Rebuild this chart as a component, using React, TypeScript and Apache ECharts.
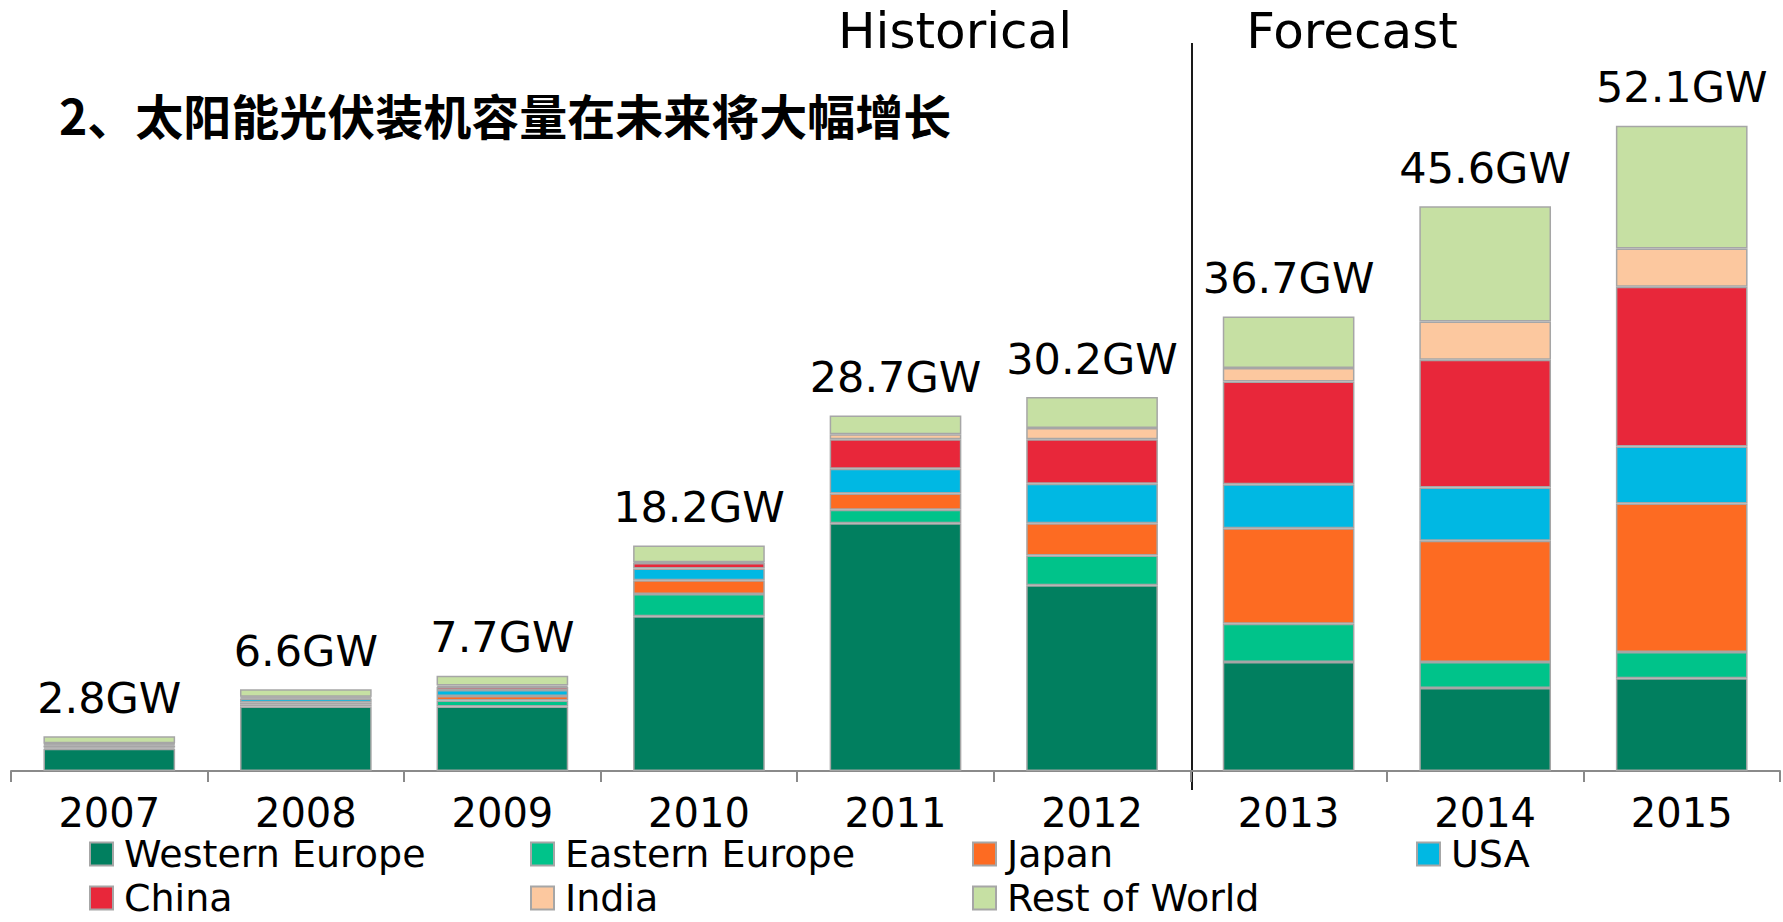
import React, { useEffect, useRef } from "react";
import * as echarts from "echarts";

const years = ["2007", "2008", "2009", "2010", "2011", "2012", "2013", "2014", "2015"];
const westernEurope = [1.8, 5.2, 5.2, 12.5, 20.0, 15.0, 8.8, 6.7, 7.5];
const easternEurope = [0.1, 0.15, 0.5, 1.8, 1.1, 2.4, 3.1, 2.1, 2.1];
const japan = [0.15, 0.2, 0.35, 1.1, 1.3, 2.6, 7.7, 9.8, 12.0];
const usa = [0.1, 0.3, 0.5, 0.95, 2.0, 3.2, 3.55, 4.3, 4.6];
const china = [0.05, 0.1, 0.25, 0.45, 2.4, 3.6, 8.3, 10.3, 12.9];
const india = [0.05, 0.05, 0.1, 0.05, 0.4, 0.9, 1.1, 3.1, 3.1];
const restOfWorld = [0.55, 0.6, 0.8, 1.35, 1.5, 2.5, 4.15, 9.3, 9.9];
const totalLabels = ["2.8GW", "6.6GW", "7.7GW", "18.2GW", "28.7GW", "30.2GW", "36.7GW", "45.6GW", "52.1GW"];

const title = "2、太阳能光伏装机容量在未来将大幅增长";
const historicalText = "Historical";
const forecastText = "Forecast";

const seriesDefs = [
  { name: "Western Europe", data: westernEurope, color: "#017f5f" },
  { name: "Eastern Europe", data: easternEurope, color: "#00c38a" },
  { name: "Japan", data: japan, color: "#fd6b22" },
  { name: "USA", data: usa, color: "#00b8e3" },
  { name: "China", data: china, color: "#e8273a" },
  { name: "India", data: india, color: "#fcc89f" },
  { name: "Rest of World", data: restOfWorld, color: "#c6e0a3" },
];

// legend grid slots: [name, column, row]
const legendSlots: [string, number, number][] = [
  ["Western Europe", 0, 0],
  ["Eastern Europe", 1, 0],
  ["Japan", 2, 0],
  ["USA", 3, 0],
  ["China", 0, 1],
  ["India", 1, 1],
  ["Rest of World", 2, 1],
];
const legendColumnsX = [89, 530, 972, 1416];
const legendRowsY = [835, 879];

const FONT = "'DejaVu Sans', 'Liberation Sans', sans-serif";

export default function App() {
  const ref = useRef<HTMLDivElement>(null);
  useEffect(() => {
    if (!ref.current) return;
    const chart = echarts.init(ref.current, undefined, { renderer: "svg" });
    const last = seriesDefs.length - 1;
    chart.setOption({
      animation: false,
      backgroundColor: "#fff",
      grid: { left: 11, right: 3, top: 28, bottom: 151, containLabel: false },
      xAxis: {
        type: "category",
        data: years,
        axisLine: { lineStyle: { color: "#8a8a8a", width: 2 } },
        axisTick: { show: true, length: 11, lineStyle: { color: "#8a8a8a", width: 2 } },
        axisLabel: {
          fontSize: 40,
          lineHeight: 40,
          fontFamily: FONT,
          color: "#000",
          margin: 22,
          interval: 0,
        },
      },
      yAxis: { type: "value", min: 0, max: 60, show: false },
      legend: legendSlots.map(([name, col, row]) => ({
        data: [name],
        orient: "horizontal",
        left: legendColumnsX[col],
        top: legendRowsY[row],
        padding: 0,
        itemWidth: 23,
        itemHeight: 23,
        icon: "rect",
        selectedMode: false,
        textStyle: {
          fontSize: 38,
          lineHeight: 38,
          fontFamily: FONT,
          color: "#000",
          padding: [0, 0, 0, 6],
        },
      })),
      series: seriesDefs.map((s, i) => ({
        name: s.name,
        type: "bar",
        stack: "total",
        data: s.data,
        barWidth: "67%",
        itemStyle: { color: s.color, borderColor: "#a6a6a6", borderWidth: 1.5 },
        label:
          i === last
            ? {
                show: true,
                position: "top",
                distance: 17,
                fontSize: 43,
                fontFamily: FONT,
                color: "#000",
                formatter: (p: any) => totalLabels[p.dataIndex],
              }
            : { show: false },
        emphasis: { disabled: true },
      })),
      graphic: [
        {
          type: "line",
          shape: { x1: 1192, y1: 43, x2: 1192, y2: 790 },
          style: { stroke: "#1a1a1a", lineWidth: 2 },
        },
        {
          type: "text",
          x: 955,
          y: 31,
          style: {
            text: historicalText,
            fontSize: 50,
            fontFamily: FONT,
            fill: "#000",
            align: "center",
            verticalAlign: "middle",
          },
        },
        {
          type: "text",
          x: 1352,
          y: 31,
          style: {
            text: forecastText,
            fontSize: 50,
            fontFamily: FONT,
            fill: "#000",
            align: "center",
            verticalAlign: "middle",
          },
        },
        {
          type: "text",
          x: 59,
          y: 114,
          style: {
            text: title,
            fontSize: 48,
            fontWeight: "bold",
            fontFamily: "'Noto Sans CJK SC', sans-serif",
            fill: "#000",
            align: "left",
            verticalAlign: "middle",
          },
        },
      ],
    });
    return () => chart.dispose();
  }, []);
  return (
    <div
      ref={ref}
      style={{ position: "fixed", left: 0, top: 0, width: 1783, height: 922, background: "#fff" }}
    />
  );
}
